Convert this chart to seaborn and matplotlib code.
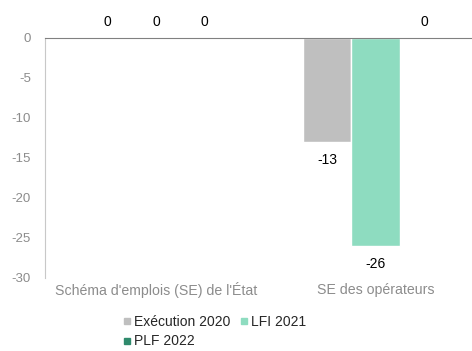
import pandas as pd
import matplotlib.pyplot as plt
import seaborn as sns

categories = ["Schéma d'emplois (SE) de l'État", "SE des opérateurs"]
series = ["Exécution 2020", "LFI 2021", "PLF 2022"]
execution_2020 = [0, -13]
lfi_2021 = [0, -26]
plf_2022 = [0, 0]
colors = ["#bfbfbf", "#8edcc0", "#2f8a6c"]

rows = []
for name, vals in zip(series, [execution_2020, lfi_2021, plf_2022]):
    for cat, v in zip(categories, vals):
        rows.append({"cat": cat, "serie": name, "val": v})
df = pd.DataFrame(rows)

sns.set_style("white")
plt.rcParams['font.family'] = ['Liberation Sans', 'DejaVu Sans']
plt.rcParams['axes.unicode_minus'] = False

fig = plt.figure(figsize=(4.72, 3.51), dpi=100)
# the plot area runs past the right edge, as in the original export
ax = fig.add_axes([0.095, 0.208, 0.934, 0.684])

sns.barplot(data=df, x="cat", y="val", hue="serie", palette=colors,
            width=0.665, saturation=1, ax=ax, legend=False, errorbar=None)

ax.set_ylim(-30, 0)
ax.set_xlim(-0.505, 1.5)
ax.set_yticks(range(-30, 1, 5))
ax.tick_params(axis='y', colors='#8c8c8c', labelsize=9.5, length=0, pad=10)
ax.tick_params(axis='x', length=0)
ax.set_xticklabels([])
for i, cat in enumerate(categories):
    ax.text(i, -31.5, cat, ha='center', va='center', fontsize=10.2, color='#8c8c8c')
ax.set_xlabel('')
ax.set_ylabel('')

for s in ['right', 'bottom']:
    ax.spines[s].set_visible(False)
ax.spines['left'].set_color('#c8c8c8')
ax.spines['top'].set_color('#808080')

# value labels
for cont in ax.containers:
    for bar in cont:
        h = bar.get_height()
        x = bar.get_x() + bar.get_width() / 2
        if h == 0:
            ax.annotate("0", (x, 0), xytext=(0, 11.5), textcoords='offset points',
                        ha='center', va='center', fontsize=10, color='black',
                        annotation_clip=False)
        else:
            ax.annotate(f"{h:.0f}", (x, h), xytext=(0, -13), textcoords='offset points',
                        ha='center', va='center', fontsize=10, color='black',
                        annotation_clip=False)

# legend (order so that PLF 2022 goes on the second row)
handles = [plt.Line2D([], [], marker='s', linestyle='', color=c, markersize=4) for c in colors]
order = [0, 2, 1]
fig.legend([handles[i] for i in order], [series[i] for i in order],
           loc='upper left', bbox_to_anchor=(0.245, 0.118), ncol=2,
           frameon=False, fontsize=10, handletextpad=0.1, columnspacing=0.6,
           handlelength=0.8, labelspacing=0.38, borderaxespad=0)

fig.savefig("out.png", dpi=100)
